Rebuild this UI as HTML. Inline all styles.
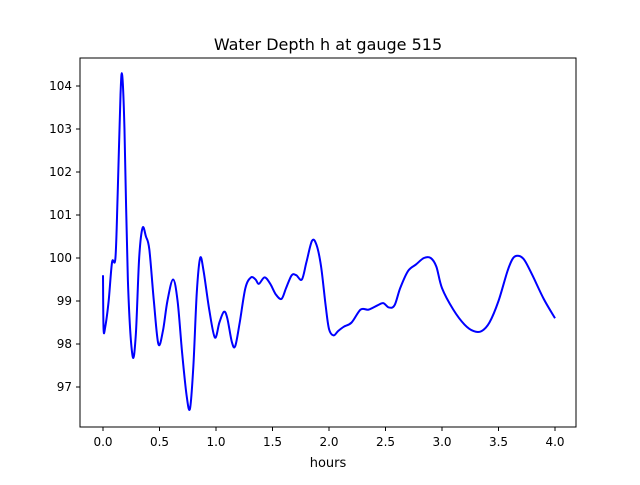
<!DOCTYPE html>
<html><head><meta charset="utf-8"><style>
body{margin:0;background:#fff}
svg{font-family:"DejaVu Sans","Liberation Sans",sans-serif}
</style></head><body>
<svg id="chart" width="640" height="480" viewBox="0 0 640 480">
<rect width="640" height="480" fill="#fff"/>
<text x="328" y="50" font-size="16" text-anchor="middle">Water Depth h at gauge 515</text>
<g id="ticks"></g>
<path id="line" fill="none" stroke="#0000ff" stroke-width="2"/>
<rect x="80" y="58" width="496" height="369" fill="none" stroke="#000" stroke-width="1"/>
<text x="328" y="467" font-size="13" text-anchor="middle">hours</text>
</svg>
<script>
const times=[0,0.005,0.02,0.05,0.08,0.11,0.13,0.155,0.17,0.19,0.22,0.26,0.29,0.32,0.35,0.38,0.41,0.45,0.49,0.53,0.57,0.62,0.66,0.7,0.74,0.77,0.8,0.83,0.86,0.89,0.94,0.99,1.03,1.07,1.1,1.14,1.17,1.21,1.26,1.31,1.35,1.38,1.43,1.48,1.53,1.58,1.62,1.67,1.71,1.76,1.8,1.85,1.89,1.93,1.97,2.0,2.04,2.08,2.13,2.2,2.28,2.35,2.43,2.48,2.53,2.58,2.63,2.7,2.77,2.84,2.9,2.95,3.0,3.1,3.2,3.28,3.35,3.42,3.5,3.58,3.63,3.68,3.73,3.8,3.9,4.0];
const depths=[99.6,98.35,98.4,99.0,99.9,100.0,101.5,103.8,104.25,103.0,99.5,97.75,98.2,100.0,100.7,100.5,100.2,99.0,98.0,98.3,99.0,99.5,99.0,97.8,96.8,96.5,97.5,99.2,100.0,99.7,98.8,98.15,98.5,98.75,98.6,98.05,97.95,98.5,99.3,99.55,99.5,99.4,99.55,99.4,99.15,99.05,99.3,99.6,99.6,99.5,99.9,100.4,100.3,99.8,98.9,98.35,98.2,98.3,98.4,98.5,98.8,98.8,98.9,98.95,98.85,98.9,99.3,99.7,99.85,100.0,100.0,99.8,99.3,98.8,98.45,98.3,98.3,98.5,99.0,99.7,100.0,100.05,99.95,99.6,99.05,98.6];
const xTicks=[0,0.5,1.0,1.5,2.0,2.5,3.0,3.5,4.0];
const yTicks=[97,98,99,100,101,102,103,104];
const X=t=>103+t*113, Y=v=>86+(104-v)*43;
const NS='http://www.w3.org/2000/svg';
const g=document.getElementById('ticks');
function mk(tag,a){const e=document.createElementNS(NS,tag);for(const k in a)e.setAttribute(k,a[k]);g.appendChild(e);return e;}
xTicks.forEach(t=>{
 const l=mk('line',{x1:X(t),x2:X(t),y1:427,y2:431,stroke:'#000'});
 
 
 const s=mk('text',{x:X(t),y:446,'font-size':12,'text-anchor':'middle'});s.textContent=t.toFixed(1);
 
 
});
yTicks.forEach(v=>{
 const l=mk('line',{x1:76,x2:80,y1:Y(v),y2:Y(v),stroke:'#000'});
 
 
 const s=mk('text',{x:72,y:Y(v)+4,'font-size':12,'text-anchor':'end'});s.textContent=v;
 
 
});
const p=times.map((t,i)=>[X(t),Y(depths[i])]);
let d='M'+p[0][0]+','+p[0][1];
for(let i=0;i<p.length-1;i++){
 const p0=p[Math.max(0,i-1)],p1=p[i],p2=p[i+1],p3=p[Math.min(p.length-1,i+2)];
 const c1=[p1[0]+(p2[0]-p0[0])/6,p1[1]+(p2[1]-p0[1])/6],c2=[p2[0]-(p3[0]-p1[0])/6,p2[1]-(p3[1]-p1[1])/6];
 d+=`C${c1[0]},${c1[1]} ${c2[0]},${c2[1]} ${p2[0]},${p2[1]}`;
}
document.getElementById('line').setAttribute('d',d);
</script>
</body></html>
